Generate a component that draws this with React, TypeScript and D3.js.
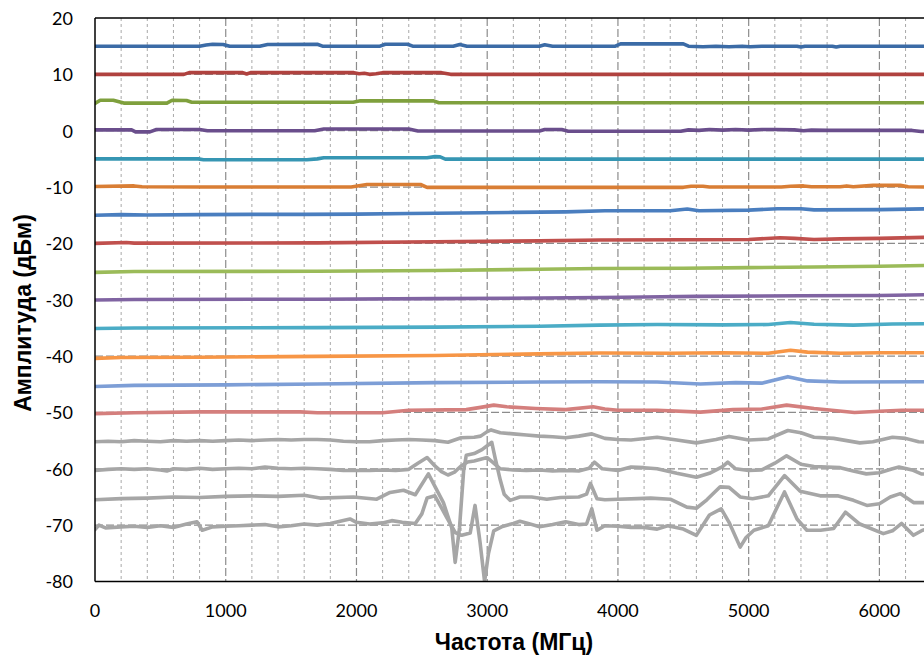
import React from "react";
import * as d3 from "d3";

type P = [number, number];

// frequency (MHz), amplitude (dBm) pairs
const s15: P[] = [[0,15],[800,15],[850,15.2],[900,15.35],[980,15.3],[1030,15.0],[1260,15.0],[1320,15.3],[1700,15.35],[1740,15.0],[2180,15.0],[2220,15.35],[2390,15.35],[2430,15.0],[2740,15.0],[2790,15.3],[2845,15.0],[3400,15.0],[3440,15.25],[3500,15.0],[3980,15.0],[4020,15.4],[4500,15.4],[4540,15.0],[4650,14.9],[4750,15.0],[4850,14.9],[4950,15.0],[5010,14.9],[5100,15.0],[5370,15.0],[5400,14.85],[5430,15.0],[5640,15.0],[5670,14.85],[5700,15.0],[6400,15.0]];
const s10: P[] = [[0,10],[680,10],[720,10.3],[1130,10.3],[1160,10.05],[1190,10.3],[1980,10.3],[2020,10.1],[2060,10.2],[2100,10.0],[2150,10.1],[2200,10.3],[2650,10.3],[2720,10.0],[6400,10.0]];
const s5: P[] = [[0,4.85],[40,5.4],[140,5.4],[220,4.9],[550,4.9],[590,5.4],[700,5.35],[740,5.05],[1975,5.05],[2030,5.3],[2590,5.3],[2630,4.95],[6400,4.95]];
const s0: P[] = [[0,0.15],[280,0.15],[310,-0.2],[420,-0.2],[470,0.2],[800,0.2],[860,0.0],[1680,0.0],[1750,0.3],[2400,0.3],[2470,-0.05],[3400,-0.05],[3440,0.2],[3570,0.2],[3620,-0.1],[4480,-0.1],[4540,0.15],[4620,0.05],[4700,0.2],[4800,0.1],[4900,0.2],[5000,0.1],[5100,0.2],[5200,0.2],[5350,0.15],[5420,0.0],[5480,0.1],[5600,0.05],[6250,0.05],[6320,-0.15],[6400,-0.15]];
const sM5: P[] = [[0,-5],[790,-5],[830,-5.15],[1620,-5.15],[1700,-5.0],[1750,-4.8],[2540,-4.8],[2600,-4.6],[2640,-4.65],[2680,-5.05],[6400,-5.05]];
const sM10: P[] = [[0,-9.9],[300,-9.8],[360,-9.95],[800,-10.0],[1960,-10.0],[2080,-9.55],[2490,-9.55],[2540,-10.05],[4500,-10.05],[4560,-9.85],[4650,-9.85],[4700,-10.0],[5250,-10.0],[5320,-9.85],[5420,-9.8],[5480,-9.95],[5700,-9.95],[5750,-9.8],[5800,-9.95],[5950,-9.7],[6160,-9.7],[6220,-9.95],[6400,-10.0]];
const sM15: P[] = [[0,-15],[200,-14.9],[400,-14.95],[800,-14.9],[1200,-14.85],[1600,-14.85],[2000,-14.8],[2400,-14.7],[2800,-14.6],[3200,-14.5],[3600,-14.4],[3900,-14.2],[4400,-14.2],[4530,-13.9],[4620,-14.2],[5000,-14.1],[5220,-13.85],[5400,-13.85],[5500,-14.05],[6000,-14.0],[6400,-13.85]];
const sM20: P[] = [[0,-20],[240,-19.85],[300,-19.95],[1700,-19.9],[2600,-19.7],[3400,-19.55],[3860,-19.4],[4500,-19.35],[5000,-19.3],[5240,-19.0],[5350,-19.1],[5500,-19.3],[5700,-19.2],[6000,-19.1],[6400,-18.9]];
const sM25: P[] = [[0,-25.15],[300,-25.0],[1700,-24.95],[2600,-24.8],[3400,-24.6],[3860,-24.45],[4500,-24.4],[5000,-24.3],[5500,-24.2],[6000,-24.05],[6400,-23.9]];
const sM30: P[] = [[0,-30.05],[300,-29.95],[1700,-29.9],[2600,-29.8],[3400,-29.7],[3860,-29.6],[4200,-29.5],[4600,-29.4],[5400,-29.3],[6000,-29.25],[6400,-29.1]];
const sM35: P[] = [[0,-35.1],[300,-35.0],[1700,-34.95],[2600,-34.85],[3400,-34.7],[3860,-34.5],[4300,-34.4],[4800,-34.45],[5150,-34.4],[5320,-34.05],[5500,-34.35],[5800,-34.5],[6100,-34.3],[6400,-34.25]];
const sM40: P[] = [[0,-40.4],[200,-40.25],[800,-40.2],[1700,-40.05],[2600,-39.9],[3400,-39.6],[3860,-39.45],[4400,-39.5],[4800,-39.4],[5150,-39.5],[5320,-38.95],[5450,-39.3],[5700,-39.5],[6000,-39.4],[6400,-39.4]];
const sM45: P[] = [[0,-45.4],[300,-45.2],[1000,-45.1],[1700,-44.95],[2600,-44.7],[3400,-44.6],[3860,-44.55],[4300,-44.6],[4630,-44.95],[4900,-44.7],[5100,-44.8],[5300,-43.65],[5450,-44.4],[5700,-44.6],[6400,-44.55]];
const sM50: P[] = [[0,-50.2],[300,-50.05],[800,-49.9],[1570,-49.9],[1700,-50.05],[2200,-50.05],[2400,-49.6],[2840,-49.5],[2950,-49.1],[3050,-48.7],[3150,-49.0],[3370,-49.3],[3600,-49.5],[3810,-49.0],[3900,-49.4],[4000,-49.6],[4300,-49.6],[4630,-49.95],[4880,-49.5],[5100,-49.4],[5290,-48.7],[5500,-49.3],[5810,-50.0],[6000,-49.8],[6170,-49.6],[6400,-49.6]];
const gA: P[] = [[0,-55.2],[100,-55.1],[200,-55.2],[300,-55.0],[400,-55.1],[500,-55.2],[600,-55.0],[700,-55.1],[800,-55.0],[900,-55.1],[1000,-55.0],[1100,-54.9],[1200,-55.0],[1300,-54.9],[1400,-54.8],[1500,-54.9],[1600,-54.8],[1700,-54.8],[1800,-54.9],[1900,-55.1],[2000,-55.2],[2100,-55.2],[2200,-55.0],[2300,-54.9],[2400,-54.8],[2500,-54.9],[2600,-55.0],[2700,-55.3],[2800,-54.5],[2900,-54.4],[2950,-54.2],[3000,-53.4],[3030,-53.1],[3100,-53.6],[3200,-53.8],[3300,-54.0],[3400,-54.2],[3500,-54.3],[3600,-54.5],[3700,-54.2],[3800,-53.8],[3900,-54.6],[4000,-54.8],[4100,-54.9],[4300,-54.4],[4450,-54.9],[4600,-55.4],[4750,-54.8],[4850,-54.25],[5000,-54.9],[5150,-54.7],[5300,-53.2],[5400,-53.6],[5500,-54.4],[5650,-54.6],[5850,-55.4],[5950,-55.2],[6100,-54.4],[6200,-54.6],[6300,-55.2],[6400,-55.3]];
const gB: P[] = [[0,-60.3],[100,-60.1],[200,-60.0],[300,-60.1],[400,-60.0],[500,-60.2],[550,-60.4],[600,-60.0],[700,-60.1],[800,-59.9],[900,-60.1],[1000,-60.0],[1100,-59.9],[1200,-60.0],[1300,-59.7],[1400,-59.9],[1500,-60.0],[1600,-59.9],[1700,-60.0],[1800,-60.1],[1900,-60.3],[2000,-60.3],[2100,-60.3],[2200,-60.2],[2300,-60.3],[2400,-60.1],[2470,-59.0],[2540,-58.0],[2600,-59.5],[2650,-60.5],[2700,-61.1],[2750,-60.6],[2800,-59.5],[2850,-58.8],[2900,-58.6],[2950,-58.3],[3000,-58.0],[3050,-59.0],[3100,-60.0],[3200,-60.2],[3300,-60.3],[3400,-60.2],[3500,-60.4],[3600,-60.3],[3700,-60.4],[3780,-59.9],[3820,-58.8],[3880,-60.0],[4000,-60.3],[4100,-59.7],[4200,-59.8],[4300,-60.0],[4450,-60.8],[4600,-61.5],[4700,-60.8],[4800,-59.6],[4840,-58.8],[4900,-60.0],[5000,-60.3],[5100,-60.2],[5200,-59.0],[5290,-57.7],[5400,-59.2],[5500,-59.6],[5700,-59.8],[5800,-60.4],[5900,-60.9],[6000,-60.7],[6100,-60.0],[6150,-59.7],[6250,-60.2],[6320,-60.9],[6400,-61.0]];
const gC: P[] = [[0,-65.5],[200,-65.3],[400,-65.2],[600,-65.0],[800,-65.1],[1000,-64.9],[1200,-64.8],[1400,-64.9],[1600,-64.7],[1721,-65.2],[1977,-65.0],[2155,-65.4],[2257,-64.2],[2360,-63.8],[2450,-64.6],[2550,-60.9],[2665,-66.0],[2729,-70.5],[2755,-76.6],[2788,-70.5],[2820,-60.3],[2840,-57.6],[2900,-57.3],[2960,-56.6],[3000,-55.9],[3035,-55.3],[3060,-58.0],[3100,-62.0],[3130,-64.5],[3175,-65.6],[3250,-65.0],[3340,-65.0],[3456,-65.4],[3560,-65.1],[3700,-65.0],[3760,-64.5],[3790,-62.6],[3840,-65.3],[3900,-65.5],[4000,-65.4],[4150,-65.3],[4250,-65.2],[4400,-65.4],[4527,-66.8],[4600,-67.0],[4680,-65.5],[4782,-63.2],[4850,-63.3],[4935,-65.0],[5030,-65.3],[5150,-64.8],[5274,-61.2],[5394,-64.0],[5547,-64.8],[5680,-64.8],[5802,-65.6],[5904,-66.5],[6000,-66.2],[6083,-65.0],[6159,-64.4],[6261,-66.0],[6340,-66.0],[6400,-65.9]];
const gD: P[] = [[0,-70.8],[30,-70.0],[80,-70.5],[200,-70.3],[300,-70.2],[400,-70.4],[500,-70.1],[600,-70.4],[700,-69.8],[780,-69.4],[820,-70.9],[900,-70.3],[1000,-70.2],[1100,-70.1],[1200,-70.0],[1300,-69.9],[1400,-70.3],[1500,-70.1],[1600,-69.8],[1700,-70.0],[1800,-69.7],[1950,-68.9],[2000,-69.5],[2100,-69.8],[2200,-69.6],[2270,-69.2],[2350,-69.5],[2450,-69.7],[2500,-68.0],[2540,-65.2],[2600,-64.8],[2690,-68.6],[2755,-71.3],[2805,-71.8],[2870,-71.4],[2907,-66.5],[2945,-73.0],[2980,-80.0],[3010,-75.0],[3050,-71.0],[3110,-70.3],[3200,-69.7],[3250,-69.3],[3300,-69.6],[3400,-70.3],[3500,-69.9],[3600,-69.4],[3700,-69.9],[3760,-69.8],[3800,-67.1],[3840,-70.9],[3900,-70.1],[4000,-70.2],[4100,-70.4],[4200,-70.4],[4300,-70.7],[4380,-70.1],[4500,-70.7],[4600,-71.8],[4700,-68.2],[4790,-67.1],[4850,-69.5],[4935,-73.9],[4980,-72.2],[5040,-70.9],[5150,-70.1],[5274,-64.1],[5370,-68.9],[5445,-70.9],[5550,-70.9],[5650,-70.6],[5740,-67.7],[5850,-69.8],[6030,-71.5],[6100,-71.0],[6170,-69.7],[6260,-71.8],[6330,-70.9],[6400,-70.5]];

const seriesList: P[][] = [s15, s10, s5, s0, sM5, sM10, sM15, sM20, sM25, sM30, sM35, sM40, sM45, sM50, gA, gB, gC, gD];
const seriesColors = ["#3B6BA6", "#B0423F", "#7FA03D", "#6A4E8C", "#3696B3", "#D97E35", "#4A7EBF", "#C0504D", "#9BBB59", "#8064A2", "#4BACC6", "#F79646", "#7D9ED6", "#D47F7D", "#A6A6A6", "#A6A6A6", "#A6A6A6", "#A6A6A6"];

const xTicks = [0, 1000, 2000, 3000, 4000, 5000, 6000];
const yTicks = [20, 10, 0, -10, -20, -30, -40, -50, -60, -70, -80];
const xMinorTicks = [200, 400, 600, 800, 1200, 1400, 1600, 1800, 2200, 2400, 2600, 2800, 3200, 3400, 3600, 3800, 4200, 4400, 4600, 4800, 5200, 5400, 5600, 6200];
const xTitle = "Частота (МГц)";
const yTitle = "Амплитуда (дБм)";

const W = 924, H = 655;
const L = 95, R = 931.7, T = 18, B = 581.5;

export default function App() {
  const x = d3.scaleLinear().domain([0, 6400]).range([L, R]);
  const y = d3.scaleLinear().domain([-80, 20]).range([B, T]);
  const line = d3.line<P>().x(d => x(d[0])).y(d => y(d[1]));
  const tickFont = "Lato, 'Open Sans', sans-serif";
  return (
    <svg width={W} height={H} style={{ position: "absolute", left: 0, top: 0, background: "#fff" }}>
      <defs>
        <clipPath id="plot"><rect x={L} y={T - 3} width={R - L} height={B - T + 3} /></clipPath>
      </defs>
      <rect x={0} y={0} width={W} height={H} fill="#fff" />
      {xMinorTicks.map(t => (
        <line key={"mn" + t} x1={x(t)} x2={x(t)} y1={T} y2={B} stroke="#A8A8A8" strokeWidth={1} strokeDasharray="3 3" />
      ))}
      {xTicks.filter(t => t > 0).map(t => (
        <line key={"mj" + t} x1={x(t)} x2={x(t)} y1={T} y2={B} stroke="#8C8C8C" strokeWidth={1.2} strokeDasharray="8 3" />
      ))}
      {yTicks.filter(t => t > -80 && t < 20).map(t => (
        <line key={"h" + t} x1={L} x2={R} y1={y(t)} y2={y(t)} stroke="#8C8C8C" strokeWidth={1.2} strokeDasharray="8 3" />
      ))}
      <g clipPath="url(#plot)">
        {seriesList.map((s, i) => (
          <path key={i} d={line(s) || ""} fill="none" stroke={seriesColors[i]} strokeWidth={3.6} strokeLinejoin="round" strokeLinecap="round" />
        ))}
      </g>
      <line x1={L} x2={R} y1={T} y2={T} stroke="#000" strokeWidth={1.5} />
      <line x1={L} x2={R} y1={B} y2={B} stroke="#000" strokeWidth={1.5} />
      <line x1={L} x2={L} y1={T} y2={B} stroke="#000" strokeWidth={1.5} />
      {yTicks.map(t => (
        <text key={"yl" + t} x={73} y={y(t) + 6.8} textAnchor="end" fontFamily={tickFont} fontSize={18} fill="#000">{t}</text>
      ))}
      {xTicks.map(t => (
        <text key={"xl" + t} x={x(t)} y={617} textAnchor="middle" fontFamily={tickFont} fontSize={18} fill="#000">{t}</text>
      ))}
      <text x={514} y={650} textAnchor="middle" fontFamily="'Liberation Sans', Arial, sans-serif" fontWeight="bold" fontSize={23} fill="#000">{xTitle}</text>
      <text transform={`translate(31,313) rotate(-90)`} textAnchor="middle" fontFamily="'Liberation Sans', Arial, sans-serif" fontWeight="bold" fontSize={23} fill="#000">{yTitle}</text>
    </svg>
  );
}
